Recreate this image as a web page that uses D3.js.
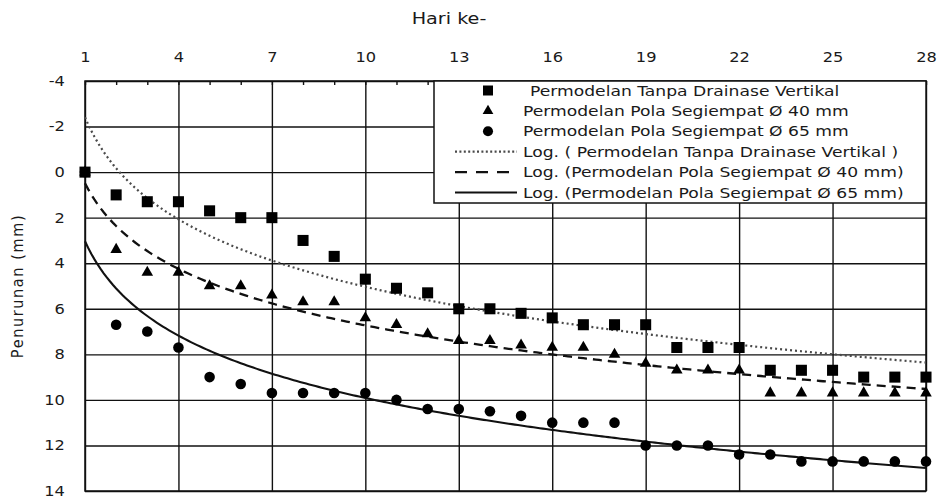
<!DOCTYPE html>
<html>
<head>
<meta charset="utf-8">
<script src="https://cdn.jsdelivr.net/npm/d3@7"></script>
<style>
  body { margin: 0; background: #fff; }
  text { font-family: "DejaVu Sans", Verdana, sans-serif; fill: #1a1a1a; }
</style>
</head>
<body>
<div id="chart"></div>
<script>
// hari ke- (day)
var days = d3.range(1, 29);
// penurunan (mm) per series, day 1..28
var tanpaDrainase = [0, 1.0, 1.3, 1.3, 1.7, 2.0, 2.0, 3.0, 3.7, 4.7, 5.1, 5.3, 6.0, 6.0,
                     6.2, 6.4, 6.7, 6.7, 6.7, 7.7, 7.7, 7.7, 8.7, 8.7, 8.7, 9.0, 9.0, 9.0];
var segiempat40 = [0, 3.4, 4.4, 4.4, 5.0, 5.0, 5.4, 5.7, 5.7, 6.4, 6.7, 7.1, 7.4, 7.4,
                   7.6, 7.7, 7.7, 8.0, 8.4, 8.7, 8.7, 8.7, 9.7, 9.7, 9.7, 9.7, 9.7, 9.7];
var segiempat65 = [0, 6.7, 7.0, 7.7, 9.0, 9.3, 9.7, 9.7, 9.7, 9.7, 10.0, 10.4, 10.4, 10.5,
                   10.7, 11.0, 11.0, 11.0, 12.0, 12.0, 12.0, 12.4, 12.4, 12.7, 12.7, 12.7, 12.7, 12.7];
var xTicks = [1, 4, 7, 10, 13, 16, 19, 22, 25, 28];
var yTicks = [-4, -2, 0, 2, 4, 6, 8, 10, 12, 14];
var legendLabels = [
  "Permodelan Tanpa Drainase Vertikal",
  "Permodelan Pola Segiempat \u00D8 40  mm",
  "Permodelan Pola Segiempat \u00D8 65 mm",
  "Log. ( Permodelan Tanpa Drainase Vertikal )",
  "Log. (Permodelan Pola Segiempat \u00D8 40  mm)",
  "Log. (Permodelan Pola Segiempat \u00D8 65 mm)"
];

var margin = {top: 81, right: 12, bottom: 8, left: 85},
    width = 938 - margin.left - margin.right,
    height = 499 - margin.top - margin.bottom;

var svg = d3.select("#chart")
  .append("svg")
    .attr("width", 938)
    .attr("height", 499);
var g = svg.append("g")
    .attr("transform", "translate(" + margin.left + "," + margin.top + ")");

var x = d3.scaleLinear().domain([1, 28]).range([0, width]);
var y = d3.scaleLinear().domain([-4, 14]).range([0, height]);

// grid
g.append("g")
  .call(d3.axisTop(x).tickValues(xTicks).tickSize(-height).tickFormat(""))
  .call(function(s){ s.select(".domain").remove(); })
  .selectAll("line").attr("stroke", "#111").attr("stroke-width", 1.4);
g.append("g")
  .call(d3.axisLeft(y).tickValues(yTicks).tickSize(-width).tickFormat(""))
  .call(function(s){ s.select(".domain").remove(); })
  .selectAll("line").attr("stroke", "#111").attr("stroke-width", 1.4);

// minor ticks along the top
g.append("g")
  .call(d3.axisTop(x).tickValues(days).tickSize(-4).tickFormat(""))
  .call(function(s){ s.select(".domain").remove(); })
  .selectAll("line").attr("stroke", "#111").attr("stroke-width", 1.4);

// tick labels (text is a bit wide in the original, so stretch it horizontally)
var xAxis = g.append("g")
  .call(d3.axisTop(x).tickValues(xTicks).tickSize(0).tickPadding(19).tickFormat(String))
  .attr("font-size", 14.5).attr("font-family", null);
xAxis.select(".domain").remove();
xAxis.selectAll("text")
  .attr("fill", "#1a1a1a")
  .attr("transform", "scale(1.12,1)");

var yAxis = g.append("g")
  .call(d3.axisLeft(y).tickValues(yTicks).tickSize(0).tickPadding(18).tickFormat(String))
  .attr("font-size", 14.5).attr("font-family", null);
yAxis.select(".domain").remove();
yAxis.selectAll("text")
  .attr("fill", "#1a1a1a")
  .attr("dy", "0.3em")
  .attr("transform", "scale(1.12,1)");

// border
g.append("rect")
  .attr("width", width).attr("height", height)
  .attr("fill", "none").attr("stroke", "#111").attr("stroke-width", 1.5);

// axis titles
svg.append("text")
  .attr("transform", "translate(449,24) scale(1.28,1)")
  .attr("text-anchor", "middle")
  .attr("font-size", 15)
  .text("Hari ke-");
svg.append("text")
  .attr("transform", "translate(23," + (margin.top + height / 2) + ") rotate(-90) scale(1,1.12)")
  .attr("text-anchor", "middle")
  .attr("font-size", 14.5).style("letter-spacing", "1.6px")
  .text("Penurunan (mm)");

// log trendlines (least squares on ln(x), like Excel)
function logFit(vals) {
  var lx = days.map(function(d){ return Math.log(d); });
  var mx = d3.mean(lx), my = d3.mean(vals);
  var sxy = d3.sum(lx, function(v, i){ return (v - mx) * (vals[i] - my); });
  var sxx = d3.sum(lx, function(v){ return (v - mx) * (v - mx); });
  var b = sxy / sxx, a = my - b * mx;
  return function(t){ return a + b * Math.log(t); };
}
var trendX = d3.range(1, 28.001, 0.1);
var trendStyles = [
  {data: tanpaDrainase, stroke: "#4a4a4a", width: 2.2, dash: "2,3", legendDash: "2,2.4"},
  {data: segiempat40, stroke: "#111", width: 2.3, dash: "9,6", legendDash: "12,9"},
  {data: segiempat65, stroke: "#111", width: 2.1, dash: null, legendDash: null}
];
var line = d3.line().x(function(d){ return x(d[0]); }).y(function(d){ return y(d[1]); });
trendStyles.forEach(function(s){
  var f = logFit(s.data);
  g.append("path")
    .datum(trendX.map(function(t){ return [t, f(t)]; }))
    .attr("fill", "none")
    .attr("stroke", s.stroke)
    .attr("stroke-width", s.width)
    .attr("stroke-dasharray", s.dash)
    .attr("d", line);
});

// markers
var sym = {
  square: d3.symbol().type(d3.symbolSquare).size(122),
  triangle: d3.symbol().type(d3.symbolTriangle).size(58),
  circle: d3.symbol().type(d3.symbolCircle).size(88)
};
function drawPoints(vals, path) {
  g.append("g").selectAll("path")
    .data(vals)
    .join("path")
      .attr("transform", function(d, i){ return "translate(" + x(days[i]) + "," + y(d) + ")"; })
      .attr("d", path)
      .attr("fill", "#000");
}
drawPoints(segiempat65, sym.circle);
drawPoints(segiempat40, sym.triangle);
drawPoints(tanpaDrainase, sym.square);

// legend
var lg = g.append("g").attr("transform", "translate(" + (434 - margin.left) + ",0)");
lg.append("rect")
  .attr("width", width - (434 - margin.left)).attr("height", 122)
  .attr("fill", "#fff").attr("stroke", "#111").attr("stroke-width", 1.5);
var legendSyms = [
  d3.symbol().type(d3.symbolSquare).size(100),
  d3.symbol().type(d3.symbolTriangle).size(50),
  d3.symbol().type(d3.symbolCircle).size(80)
];
legendLabels.forEach(function(lbl, i){
  var ly = 9.5 + i * 20.4;
  if (i < 3) {
    lg.append("path")
      .attr("transform", "translate(54," + ly + ")")
      .attr("d", legendSyms[i]).attr("fill", "#000");
  } else {
    var s = trendStyles[i - 3];
    lg.append("line")
      .attr("x1", 21).attr("x2", 83).attr("y1", ly).attr("y2", ly)
      .attr("stroke", s.stroke).attr("stroke-width", s.width)
      .attr("stroke-dasharray", s.legendDash);
  }
  lg.append("text")
    .attr("transform", "translate(" + (i === 0 ? 96 : 89) + "," + ly + ") scale(1.2,1)")
    .attr("dy", "0.35em")
    .attr("font-size", 14.3)
    .text(lbl);
});
</script>
</body>
</html>
